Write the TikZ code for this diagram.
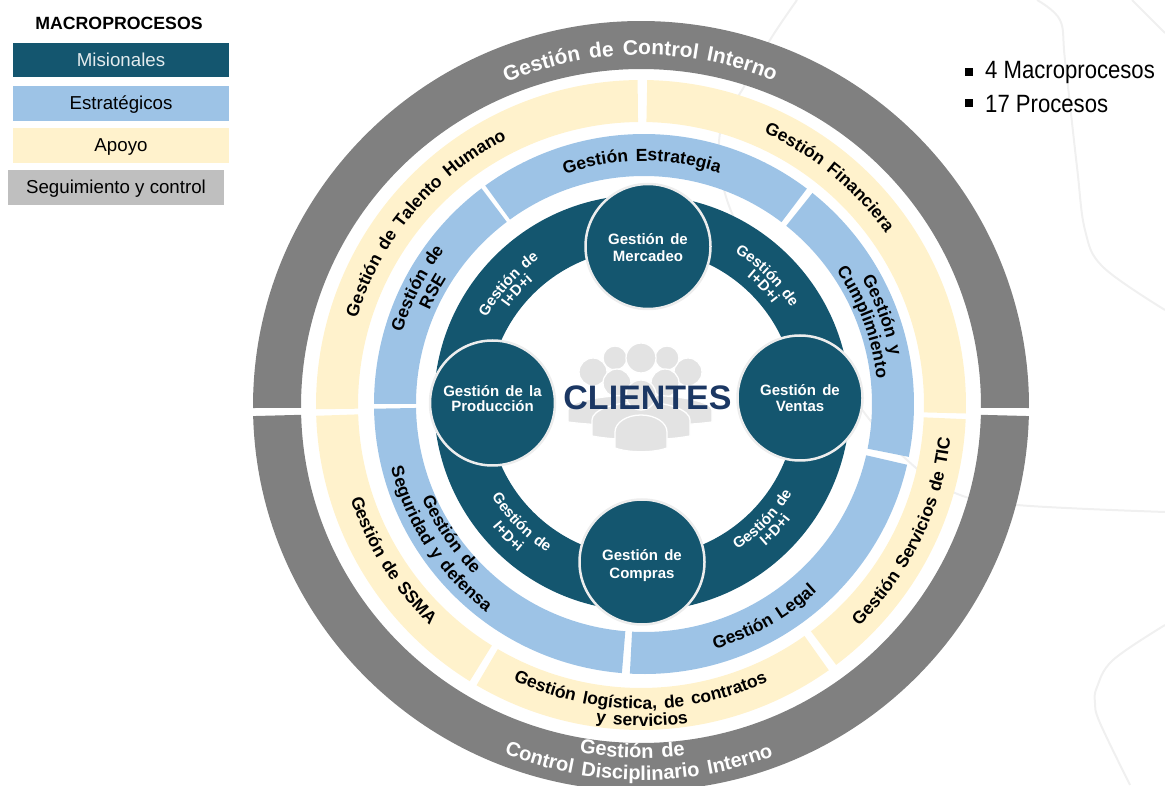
\documentclass[tikz,border=0pt]{standalone}
\usepackage{fontspec}
\setmainfont{Liberation Sans}
\newfontfamily\narrowfont[FakeStretch=0.885]{Liberation Sans}
\newfontfamily\arcf[WordSpace=1.5]{Liberation Sans}
\usetikzlibrary{decorations.text}
\definecolor{teal}{HTML}{14566F}
\definecolor{bluec}{HTML}{9DC3E6}
\definecolor{yell}{HTML}{FFF2CC}
\definecolor{grayc}{HTML}{808080}
\definecolor{leggray}{HTML}{BFBFBF}
\definecolor{bord}{HTML}{EDEDED}
\definecolor{navy}{HTML}{1B3763}
\definecolor{peop}{HTML}{E3E3E3}
\definecolor{wm}{HTML}{F0F0F0}
\newcommand{\fsz}[1]{\fontsize{#1}{#1}\selectfont}
% elliptical ring sector: cx cy rxO ryO rxI ryI a1 a2 colour
\newcommand{\ringsec}[9]{\fill[#9] ({#1+#3*cos(#7)},{#2+#4*sin(#7)}) arc[start angle=#7,end angle=#8,x radius=#3,y radius=#4] -- ({#1+#5*cos(#8)},{#2+#6*sin(#8)}) arc[start angle=#8,end angle=#7,x radius=#5,y radius=#6] -- cycle;}
% clockwise text (tops outward): cx cy r mid size colour text
\newcommand{\arcT}[7]{\path[decorate,decoration={text along path,text align=center,text={|\arcf\fsz{#5}\bfseries\color{#6}|#7}}] ({#1+#3*cos(#4+70)},{#2+#3*sin(#4+70)}) arc[start angle={#4+70},end angle={#4-70},radius=#3];}
% counter-clockwise text (tops inward)
\newcommand{\arcB}[7]{\path[decorate,decoration={text along path,text align=center,text={|\arcf\fsz{#5}\bfseries\color{#6}|#7}}] ({#1+#3*cos(#4-70)},{#2+#3*sin(#4-70)}) arc[start angle={#4-70},end angle={#4+70},radius=#3];}
\newcommand{\pbody}[5]{\draw[fill=peop,draw=white,line width=1.3] ({#1-#2},#5) -- ({#1-#2},#4) arc[start angle=180,end angle=0,x radius=#2,y radius=#3] -- ({#1+#2},#5) .. controls ({#1+0.5*#2},{#5-5}) and ({#1-0.5*#2},{#5-5}) .. ({#1-#2},#5) -- cycle;}
\tikzset{
  legbox/.style={rectangle,inner sep=0pt,minimum height=35pt,text height=15pt,text depth=2pt,font=\fsz{18.7}},
  hub/.style={circle,fill=teal,draw=bord,line width=2.5pt,inner sep=0pt,minimum size=125pt,text=white,align=center,font=\arcf\fsz{15}\bfseries},
  wmline/.style={wm,line width=2pt},
  head/.style={fill=peop,draw=white,line width=1.3pt},
  bullet/.style={rectangle,fill=black,inner sep=0pt,minimum size=8pt},
}
\begin{document}
\begin{tikzpicture}[x=1pt,y=1pt]
\useasboundingbox (0,0) rectangle (1165,785);
% watermark lines
\draw[wmline] plot[smooth,tension=0.6] coordinates {(1037,785) (1060,765) (1065,725) (1077,618) (1085,555) (1103,518) (1165,475)};
\draw[wmline] (1132,785) -- (1165,752);
\draw[wmline] plot[smooth,tension=0.6] coordinates {(797,785) (770,745) (745,700) (720,652) (727,585) (765,515) (860,378) (907,325) (955,292) (1017,280) (1165,273)};
\draw[wmline] plot[smooth,tension=0.6] coordinates {(1165,160) (1113,125) (1097,98) (1095,82) (1100,62) (1130,0)};
% outer ring
\ringsec{641}{379}{388}{385}{340}{337}{180.3}{-0.3}{grayc}
\ringsec{641}{379}{388}{385}{340}{337}{181.5}{358.5}{grayc}
% support ring
\ringsec{641}{380}{325}{325}{283}{283}{180.75}{90.6}{yell}
\ringsec{641}{380}{325}{325}{283}{283}{88.9}{-1.5}{yell}
\ringsec{641}{380}{325}{325}{283}{283}{-2.5}{-53.1}{yell}
\ringsec{641}{380}{325}{325}{283}{283}{239.6}{305.3}{yell}
\ringsec{641}{380}{325}{325}{283}{283}{181.9}{238.2}{yell}
% strategic ring
\ringsec{644}{381}{270}{270}{228}{228}{126}{52.9}{bluec}
\ringsec{644}{381}{270}{270}{228}{228}{180}{127}{bluec}
\ringsec{644}{381}{270}{270}{228}{228}{51.4}{-11.3}{bluec}
\ringsec{644}{381}{270}{270}{228}{228}{-13}{-93}{bluec}
\ringsec{644}{381}{270}{270}{228}{228}{181}{265.3}{bluec}
% mission ring
\fill[teal,even odd rule] (642,382) circle[radius=208] (642,382) circle[radius=154];
% people icon
\draw[head] (593,413) circle[radius=14];
\draw[head] (688,413) circle[radius=14];
\draw[head] (615,427) circle[radius=12];
\draw[head] (667,427) circle[radius=12];
\draw[head] (641,427) circle[radius=15];
\draw[head] (617,402) circle[radius=14];
\draw[head] (665,402) circle[radius=14];
\pbody{640}{72}{15}{375}{363}
\pbody{641}{49}{18}{365}{349}
\draw[head] (641,390) circle[radius=15];
\pbody{641}{26}{17}{353}{337}
% circles
\node[hub] (merc) at (648,538.5) {\mbox{}\\[-1.5pt]Gestión de\\[2pt]Mercadeo};
\node[hub] (prod) at (492.5,382) {Gestión de la\\[0.5pt]Producción\\[-6pt]\mbox{}};
\node[hub] (vent) at (800,387) {Gestión de\\[0.5pt]Ventas};
\node[hub] (comp) at (642,223) {\mbox{}\\[3pt]Gestión de\\[3pt]Compras};
\node[font=\fsz{34}\bfseries,text=navy,inner sep=0pt] (cli) at (647.5,387) {CLIENTES};
% ring texts
\arcT{642}{380}{350}{90.3}{21}{white}{Gestión de Control Interno}
\arcB{642}{380}{353}{-91.6}{20}{white}{Gestión de}
\arcB{642}{380}{375}{-90.5}{20}{white}{Control Disciplinario Interno}
\arcT{642}{380}{298}{140}{17.5}{black}{Gestión de Talento Humano}
\arcT{642}{380}{298}{50.5}{17.5}{black}{Gestión Financiera}
\arcB{642}{380}{310}{-25.8}{17.5}{black}{Gestión Servicios de TIC}
\arcB{642}{380}{304}{-90.3}{17.5}{black}{Gestión logística, de contratos}
\arcB{642}{380}{321}{-90}{17.5}{black}{y servicios}
\arcB{642}{380}{306}{212}{17.5}{black}{Gestión de SSMA}
\arcT{644}{381}{243}{90.5}{17.5}{black}{Gestión Estrategia}
\arcT{644}{381}{252}{153}{17.5}{black}{Gestión de}
\arcT{644}{381}{234}{152}{17.5}{black}{RSE}
\arcT{644}{381}{251}{20.5}{17.5}{black}{Gestión y}
\arcT{644}{381}{234}{20.5}{17.5}{black}{Cumplimiento}
\arcB{644}{381}{255}{-60.6}{17.5}{black}{Gestión Legal}
\arcB{644}{381}{241}{214}{17.5}{black}{Gestión de}
\arcB{644}{381}{261}{213.5}{17.5}{black}{Seguridad y defensa}
\arcT{642}{382}{177}{138.4}{15}{white}{Gestión de}
\arcT{642}{382}{164}{138}{15}{white}{I+D+i}
\arcT{642}{382}{177}{45.5}{15}{white}{Gestión de}
\arcT{642}{382}{164}{43.8}{15}{white}{I+D+i}
\arcB{642}{382}{175}{-44}{15}{white}{Gestión de}
\arcB{642}{382}{189}{-43.7}{15}{white}{I+D+i}
\arcB{642}{382}{177}{224.7}{15}{white}{Gestión de}
\arcB{642}{382}{194}{225}{15}{white}{I+D+i}
% legend
\node[font=\fsz{17.7}\bfseries,inner sep=0pt] (ttl) at (119,762) {MACROPROCESOS};
\node[legbox,fill=teal,text=white!88!teal,minimum width=216pt,minimum height=34pt] (l1) at (121,725) {Misionales};
\node[legbox,fill=bluec,minimum width=216pt] (l2) at (121,681.5) {Estratégicos};
\node[legbox,fill=yell,minimum width=216pt] (l3) at (121,639.5) {Apoyo};
\node[legbox,fill=leggray,minimum width=216pt] (l4) at (116,597.5) {Seguimiento y control};
% bullets
\node[bullet] (b1) at (968.5,713) {};
\node[bullet] (b2) at (968.5,682) {};
\node[anchor=west,inner sep=0pt,font=\narrowfont\fsz{25}] (t1) at (985,712) {4 Macroprocesos};
\node[anchor=west,inner sep=0pt,font=\narrowfont\fsz{25}] (t2) at (985,681) {17 Procesos};
\end{tikzpicture}
\end{document}
